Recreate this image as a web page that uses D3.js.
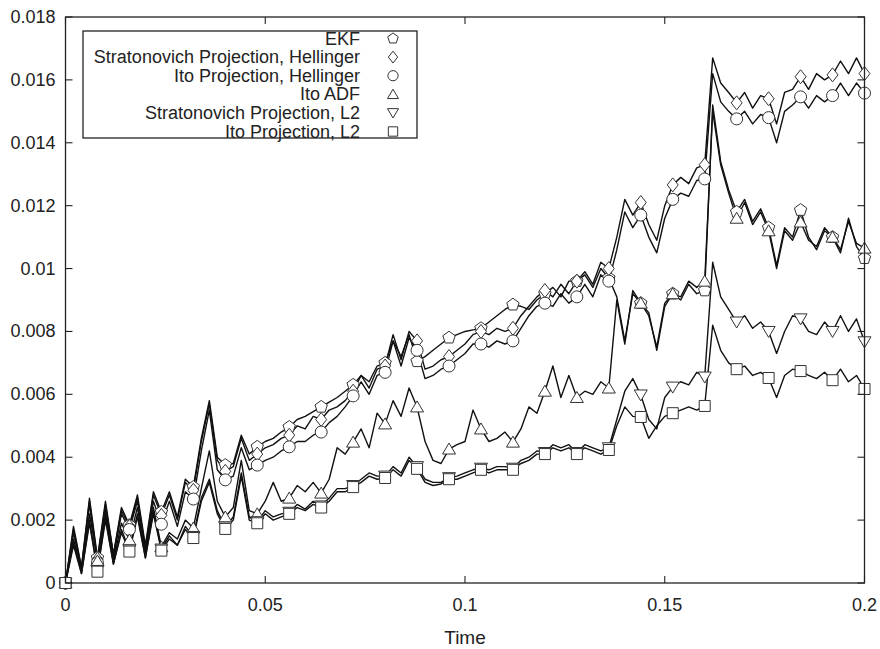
<!DOCTYPE html>
<html>
<head>
<meta charset="utf-8">
<script src="https://cdn.jsdelivr.net/npm/d3@7"></script>
<style>
  body { margin: 0; background: #fff; }
  svg text { font-family: "Liberation Sans", Arial, Helvetica, sans-serif; fill: #222; }
</style>
</head>
<body>
<div id="chart"></div>
<script>
//DATA (values in units of 1e-3, sampled every 0.002 s)
const dt = 0.002;
const markerEvery = 4;

const ekf = [
  0, 1.8, 0.5, 2.7, 0.8, 2.6, 0.9, 2.4, 1.84, 2.8,
  1.2, 2.9, 2.26, 2.9, 2.1, 3.3, 3.05, 4.6, 5.8, 4.0,
  3.75, 3.8, 4.7, 4.1, 4.33, 4.5, 4.6, 4.8, 4.96, 5.2,
  5.3, 5.45, 5.6, 5.75, 5.9, 6.1, 6.3, 6.6, 6.4, 6.9,
  7.0, 7.7, 7.2, 7.9, 7.05, 7.2, 7.4, 7.6, 7.8, 7.9,
  8.0, 8.05, 8.1, 8.3, 8.5, 8.7, 8.85, 8.8, 8.7, 9.0,
  9.2, 9.4, 9.1, 9.6, 9.6, 9.8, 9.4, 10.0, 9.7, 9.1,
  7.7, 9.2, 8.9, 8.6, 7.4, 8.8, 9.2, 9.0, 9.5, 9.2,
  9.3, 15.2, 13.4, 12.5, 11.8, 12.2, 11.5, 11.9, 11.3, 10.1,
  11.3, 11.0, 11.86, 11.0, 10.6, 11.2, 11.0, 10.5, 11.6, 10.7,
  10.33
];
const stratHell = [
  0, 1.7, 0.5, 2.6, 0.75, 2.5, 0.9, 2.3, 1.8, 2.7,
  1.1, 2.8, 2.15, 2.8, 2.0, 3.2, 2.95, 4.5, 5.7, 3.9,
  3.55, 3.7, 4.6, 3.9, 4.1, 4.3, 4.4, 4.6, 4.7, 5.0,
  4.9, 5.3, 5.2, 5.5, 5.6, 5.8, 6.1, 6.6, 6.2, 6.8,
  6.9, 7.9, 7.1, 8.0, 7.7, 6.8, 6.9, 7.1, 7.2, 7.4,
  7.6, 7.9, 8.0, 7.9, 8.1, 8.0, 8.1, 8.5, 8.8, 9.1,
  9.3, 9.1, 9.5, 9.2, 9.6, 9.9, 9.5, 10.2, 10.0, 11.0,
  12.2, 11.7, 12.1, 11.4, 10.9, 12.0, 12.66, 12.9, 12.7, 13.2,
  13.3, 16.7, 15.9, 15.6, 15.27, 15.6, 15.1, 15.5, 15.4, 14.6,
  15.6, 15.7, 16.1, 15.7, 16.2, 16.0, 16.16, 16.6, 16.2, 16.7,
  16.2
];
const itoHell = [
  0, 1.6, 0.4, 2.5, 0.64, 2.4, 0.8, 2.2, 1.7, 2.6,
  1.0, 2.6, 1.87, 2.6, 1.8, 2.9, 2.67, 4.2, 5.5, 3.6,
  3.28, 3.4, 4.3, 3.6, 3.75, 3.9, 4.0, 4.2, 4.33, 4.5,
  4.5, 4.7, 4.8, 5.1, 5.3, 5.6, 5.95, 6.4, 6.0, 6.6,
  6.7, 7.7, 6.9, 7.8, 7.4, 6.5, 6.6, 6.8, 6.9, 7.1,
  7.3, 7.6, 7.6, 7.5, 7.7, 7.6, 7.7, 8.1, 8.5, 8.8,
  8.9, 8.8, 9.2, 8.9, 9.1, 9.5, 9.1, 9.8, 9.6, 10.6,
  11.8, 11.3, 11.7, 11.0, 10.5, 11.6, 12.2, 12.4, 12.3, 12.8,
  12.85, 16.2, 15.3, 15.0, 14.76, 15.0, 14.6, 14.9, 14.8, 14.0,
  15.0, 15.2, 15.46, 15.1, 15.5, 15.3, 15.5, 15.9, 15.5, 15.9,
  15.58
];
const itoAdf = [
  0, 1.4, 0.4, 2.2, 0.7, 2.2, 0.7, 1.9, 1.37, 2.4,
  0.9, 2.4, 1.15, 1.6, 1.4, 2.0, 1.75, 3.0, 4.2, 2.6,
  2.1, 2.4, 3.9, 2.3, 2.2, 2.6, 3.2, 2.6, 2.7, 3.1,
  2.9, 3.2, 2.86, 3.3, 4.3, 4.1, 4.48, 4.9, 4.3, 5.4,
  5.06, 5.8, 5.3, 6.2, 5.6, 4.5, 3.9, 3.8, 4.26, 4.4,
  4.5, 5.5, 4.9, 4.5, 4.6, 4.8, 4.48, 4.9, 5.6, 5.4,
  6.1, 6.9, 5.9, 6.6, 5.9, 6.1, 6.0, 6.4, 6.2, 9.0,
  7.6, 9.3, 8.9, 8.5, 7.5, 8.9, 9.2, 9.1, 9.6, 9.4,
  9.6, 15.0, 13.3, 12.4, 11.6, 12.1, 11.4, 11.8, 11.2, 10.0,
  11.2, 10.9, 11.48, 10.9, 10.7, 11.3, 11.0, 10.6, 11.5, 10.8,
  10.65
];
const stratL2 = [
  0, 1.3, 0.3, 2.0, 0.4, 2.1, 0.6, 1.7, 1.05, 2.2,
  0.8, 2.3, 1.08, 1.5, 1.2, 1.8, 1.48, 2.7, 3.3, 2.3,
  1.78, 2.1, 3.5, 2.1, 1.95, 2.3, 2.1, 2.2, 2.25, 2.5,
  2.35, 2.6, 2.45, 2.7, 3.0, 3.0, 3.1, 3.3, 3.5, 3.4,
  3.4, 3.7, 3.5, 4.0, 3.7, 3.3, 3.2, 3.2, 3.35, 3.4,
  3.5, 3.6, 3.65, 3.6, 3.7, 3.7, 3.65, 3.9, 4.0, 4.2,
  4.15, 4.4, 4.3, 4.4, 4.15, 4.4, 4.3, 4.2, 4.3, 5.2,
  6.1, 6.5, 5.98, 5.2, 4.9, 5.9, 6.23, 6.4, 6.3, 6.7,
  6.55, 10.2, 9.1, 8.7, 8.3, 8.5, 8.1, 8.3, 8.0, 7.3,
  8.0, 8.5, 8.4, 8.0, 7.9, 8.3, 8.0, 8.5, 8.0, 8.4,
  7.67
];
const itoL2 = [
  0, 1.2, 0.3, 1.9, 0.36, 2.0, 0.6, 1.6, 1.0, 2.1,
  0.8, 2.2, 1.03, 1.4, 1.2, 1.7, 1.43, 2.6, 3.2, 2.2,
  1.72, 2.0, 3.4, 2.0, 1.9, 2.2, 2.0, 2.1, 2.2, 2.4,
  2.3, 2.5, 2.4, 2.6, 2.9, 2.9, 3.05, 3.2, 3.4, 3.3,
  3.34, 3.6, 3.4, 3.9, 3.63, 3.2, 3.1, 3.15, 3.3, 3.3,
  3.4, 3.5, 3.6, 3.5, 3.6, 3.6, 3.6, 3.8, 3.9, 4.1,
  4.1, 4.3, 4.2, 4.3, 4.1, 4.3, 4.2, 4.1, 4.23, 5.0,
  5.6, 5.3, 5.28, 4.6, 5.0, 5.3, 5.4, 5.5, 5.6, 5.5,
  5.63, 8.2, 7.4, 7.0, 6.8, 6.9, 6.6, 6.7, 6.52, 5.9,
  6.6, 6.8, 6.74, 6.6, 6.5, 6.7, 6.45, 6.8, 6.4, 6.6,
  6.17
];

const seriesNames = ["EKF", "Stratonovich Projection, Hellinger", "Ito Projection, Hellinger",
                     "Ito ADF", "Stratonovich Projection, L2", "Ito Projection, L2"];
const seriesShapes = ["pentagon", "diamond", "circle", "triangleUp", "triangleDown", "square"];
const seriesValues = [ekf, stratHell, itoHell, itoAdf, stratL2, itoL2];

const xTicks = [0, 0.05, 0.1, 0.15, 0.2];
const xTickLabels = ["0", "0.05", "0.1", "0.15", "0.2"];
const yTicks = [0, 0.002, 0.004, 0.006, 0.008, 0.01, 0.012, 0.014, 0.016, 0.018];
const yTickLabels = ["0", "0.002", "0.004", "0.006", "0.008", "0.01", "0.012", "0.014", "0.016", "0.018"];
const xTitle = "Time";

//LAYOUT AND SIZING
const W = 880, H = 649;
const plot = {left: 65.5, right: 864.5, top: 17, bottom: 583};
const tickLen = 7;

const svg = d3.select("#chart").append("svg")
  .attr("width", W).attr("height", H);

const x = d3.scaleLinear().domain([0, 0.2]).range([plot.left, plot.right]);
const y = d3.scaleLinear().domain([0, 0.018]).range([plot.bottom, plot.top]);

//Marker shapes, centred on 0,0
function markerPath(shape, k = 1){
  const p = d3.path();
  if (shape === "circle"){
    const r = 6 * k;
    p.arc(0, 0, r, 0, Math.PI * 2);
  } else if (shape === "square"){
    const s = 5.5 * k;
    p.rect(-s, -s, 2 * s, 2 * s);
  } else if (shape === "diamond"){
    const w = 5.5 * k, h = 7 * k;
    p.moveTo(0, -h); p.lineTo(w, 0); p.lineTo(0, h); p.lineTo(-w, 0); p.closePath();
  } else if (shape === "triangleUp" || shape === "triangleDown"){
    const d = shape === "triangleUp" ? 1 : -1;
    const w = 6.5 * k, h = 6 * k;
    p.moveTo(0, -h * d); p.lineTo(w, 5 * k * d); p.lineTo(-w, 5 * k * d); p.closePath();
  } else if (shape === "pentagon"){
    const r = 6.5 * k;
    for (let i = 0; i < 5; i++){
      const a = -Math.PI / 2 + i * 2 * Math.PI / 5;
      if (i === 0) p.moveTo(r * Math.cos(a), r * Math.sin(a));
      else p.lineTo(r * Math.cos(a), r * Math.sin(a));
    }
    p.closePath();
  }
  return p.toString();
}

//Build point tables
const series = seriesValues.map((vals, s) => ({
  name: seriesNames[s],
  shape: seriesShapes[s],
  points: vals.map((v, i) => ({t: i * dt, v: v / 1000, i}))
}));

//Lines
const line = d3.line().x(d => x(d.t)).y(d => y(d.v));
svg.append("g").selectAll("path").data(series).join("path")
  .attr("d", d => line(d.points))
  .attr("fill", "none")
  .attr("stroke", "#111")
  .attr("stroke-width", 1.4)
  .attr("stroke-linejoin", "round");

//Markers
series.forEach(s => {
  svg.append("g").selectAll("path")
    .data(s.points.filter(p => p.i % markerEvery === 0))
    .join("path")
      .attr("transform", p => `translate(${x(p.t)},${y(p.v)})`)
      .attr("d", markerPath(s.shape))
      .attr("fill", "#fff")
      .attr("stroke", "#333")
      .attr("stroke-width", 1);
});

//Axes box and inward ticks
const axisG = svg.append("g");
axisG.append("rect")
  .attr("x", plot.left).attr("y", plot.top)
  .attr("width", plot.right - plot.left).attr("height", plot.bottom - plot.top)
  .attr("fill", "none").attr("stroke", "#222").attr("stroke-width", 1.3);

const tickStyle = sel => sel.attr("stroke", "#222").attr("stroke-width", 1.1);

axisG.selectAll(".xt-b").data(xTicks).join("line").attr("class", "xt-b")
  .attr("x1", d => x(d)).attr("x2", d => x(d))
  .attr("y1", plot.bottom).attr("y2", plot.bottom - tickLen).call(tickStyle);
axisG.selectAll(".xt-t").data(xTicks).join("line").attr("class", "xt-t")
  .attr("x1", d => x(d)).attr("x2", d => x(d))
  .attr("y1", plot.top).attr("y2", plot.top + tickLen).call(tickStyle);
axisG.selectAll(".yt-l").data(yTicks).join("line").attr("class", "yt-l")
  .attr("x1", plot.left).attr("x2", plot.left + tickLen)
  .attr("y1", d => y(d)).attr("y2", d => y(d)).call(tickStyle);
axisG.selectAll(".yt-r").data(yTicks).join("line").attr("class", "yt-r")
  .attr("x1", plot.right).attr("x2", plot.right - tickLen)
  .attr("y1", d => y(d)).attr("y2", d => y(d)).call(tickStyle);

//Tick labels
axisG.selectAll(".xl").data(xTicks).join("text").attr("class", "xl")
  .attr("x", d => x(d)).attr("y", 611)
  .attr("text-anchor", "middle").attr("font-size", 18)
  .text((d, i) => xTickLabels[i]);
axisG.selectAll(".yl").data(yTicks).join("text").attr("class", "yl")
  .attr("x", plot.left - 10).attr("y", d => y(d) + 6)
  .attr("text-anchor", "end").attr("font-size", 18)
  .text((d, i) => yTickLabels[i]);

svg.append("text")
  .attr("x", (plot.left + plot.right) / 2).attr("y", 644)
  .attr("text-anchor", "middle").attr("font-size", 19)
  .text(xTitle);

//Legend
const legend = {left: 83, top: 31, right: 417, bottom: 138, textRight: 360, markerX: 393, row0: 38.5, rowStep: 18.6};
const lg = svg.append("g");
lg.append("rect")
  .attr("x", legend.left).attr("y", legend.top)
  .attr("width", legend.right - legend.left).attr("height", legend.bottom - legend.top)
  .attr("fill", "#fff").attr("stroke", "#222").attr("stroke-width", 1.3);
const rows = lg.selectAll("g.row").data(series).join("g").attr("class", "row")
  .attr("transform", (d, i) => `translate(0,${legend.row0 + i * legend.rowStep})`);
rows.append("text")
  .attr("x", legend.textRight).attr("y", 6)
  .attr("text-anchor", "end").attr("font-size", 18)
  .text(d => d.name);
rows.append("path")
  .attr("transform", `translate(${legend.markerX},0)`)
  .attr("d", d => markerPath(d.shape, 0.85))
  .attr("fill", "#fff").attr("stroke", "#333").attr("stroke-width", 1);
</script>
</body>
</html>
